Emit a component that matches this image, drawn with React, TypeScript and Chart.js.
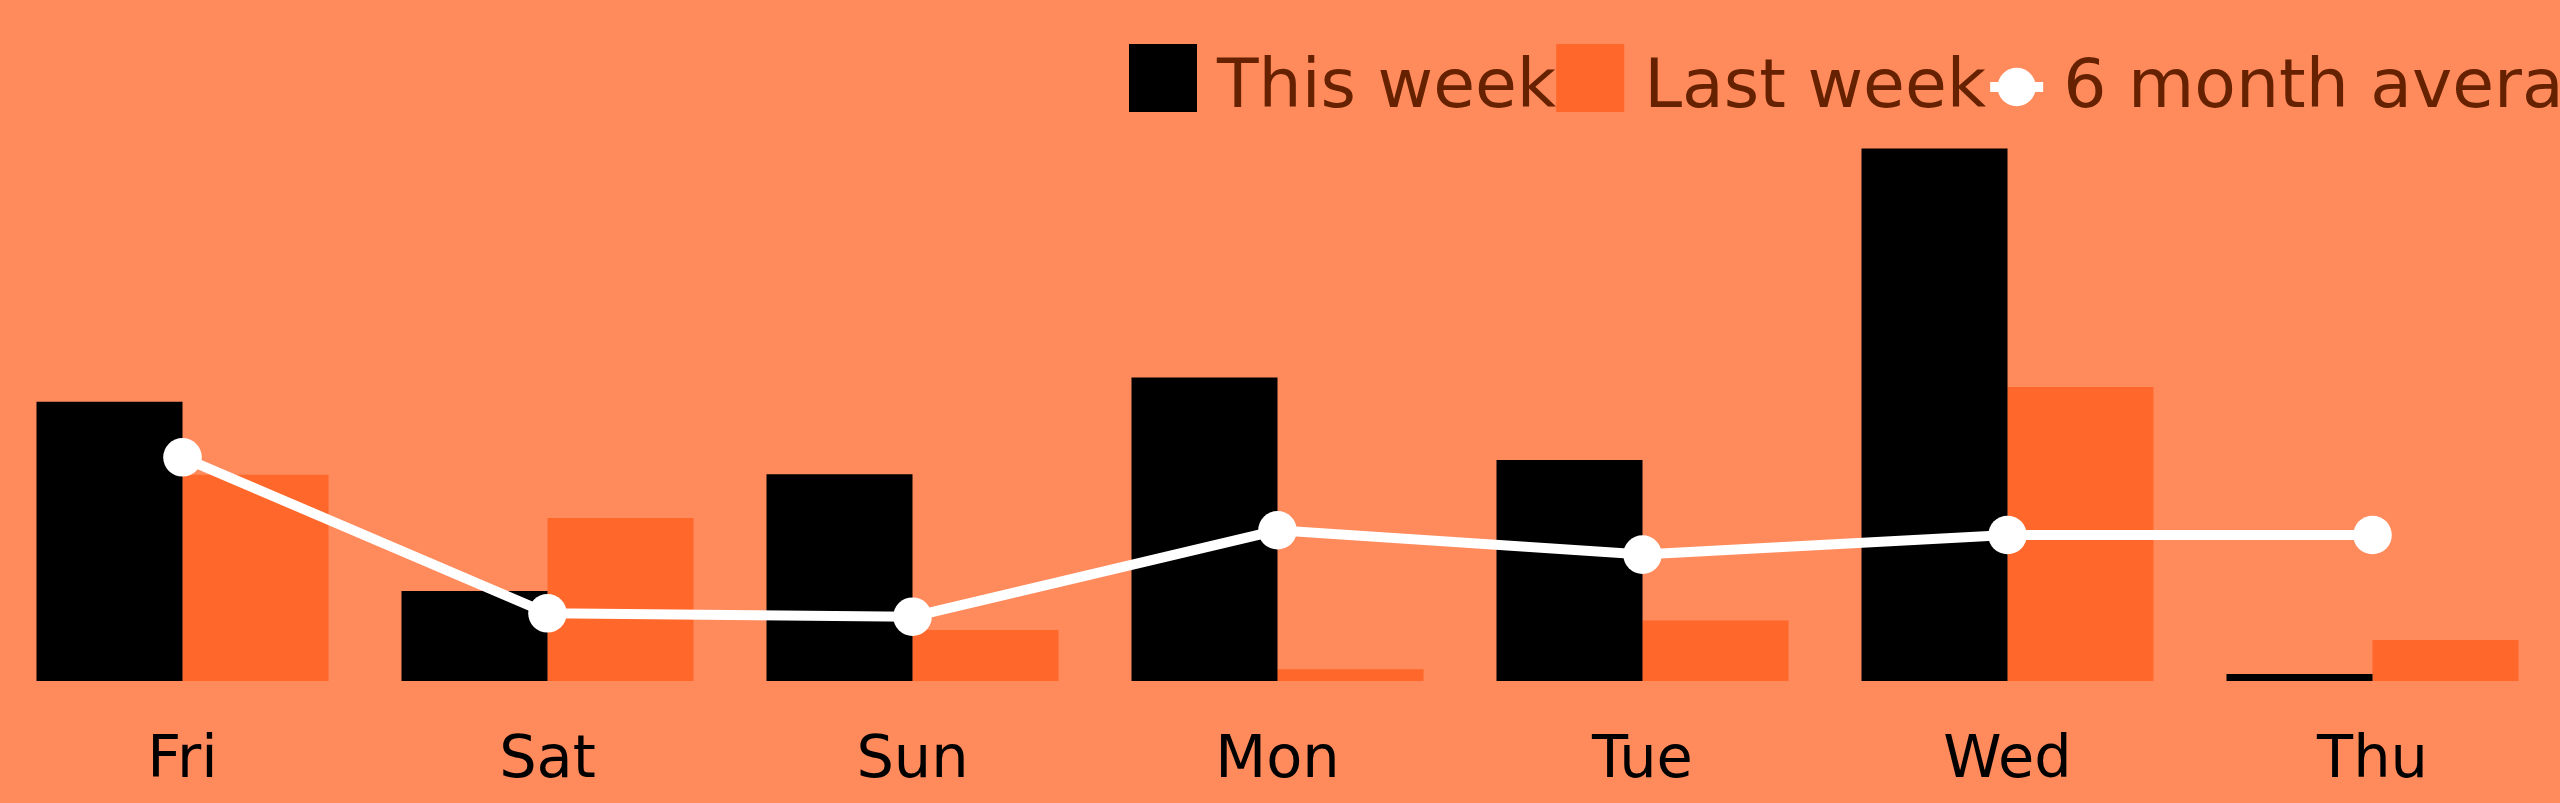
import React, { useEffect, useRef } from "react";
import { Chart, registerables } from "chart.js";

Chart.register(...registerables);

const categories = ["Fri", "Sat", "Sun", "Mon", "Tue", "Wed", "Thu"];
const thisWeek = [46.55, 15.0, 34.45, 50.57, 36.83, 88.73, 1.17];
const lastWeek = [34.38, 27.17, 8.5, 1.95, 10.07, 49.0, 6.83];
const sixMonthAverage = [37.28, 11.28, 10.72, 25.12, 21.07, 24.33, 24.33];
const seriesLabels = ["This week", "Last week", "6 month average"];

const BG = "#ff8a5c";
const LAST_WEEK_COLOR = "#ff672b";
const LEGEND_TEXT = "#662200";
const FONT = '"DejaVu Sans", Verdana, sans-serif';

const legendPlugin = {
  id: "topLegend",
  afterDraw(chart: any) {
    const ctx = chart.ctx as CanvasRenderingContext2D;
    ctx.save();
    ctx.font = `68px ${FONT}`;
    ctx.textBaseline = "alphabetic";
    ctx.textAlign = "left";
    let x = 1129;
    const spacing = [0, 4, 0];
    chart.data.datasets.forEach((ds: any, i: number) => {
      if (ds.type === "line") {
        const cy = 87;
        ctx.strokeStyle = ds.borderColor;
        ctx.lineWidth = 10;
        ctx.beginPath();
        ctx.moveTo(x, cy);
        ctx.lineTo(x + 53, cy);
        ctx.stroke();
        ctx.fillStyle = ds.pointBackgroundColor;
        ctx.beginPath();
        ctx.arc(x + 26.5, cy, 19.2, 0, Math.PI * 2);
        ctx.fill();
        x += 53;
      } else {
        ctx.fillStyle = ds.backgroundColor;
        ctx.fillRect(x, 44, 68, 68);
        x += 68;
      }
      x += 20;
      ctx.fillStyle = LEGEND_TEXT;
      ctx.fillText(ds.label, x, 107);
      x += ctx.measureText(ds.label).width + spacing[i];
    });
    ctx.restore();
  },
};

export default function App() {
  const ref = useRef<HTMLCanvasElement | null>(null);

  useEffect(() => {
    document.documentElement.style.overflow = "hidden";
    document.body.style.margin = "0";
    document.body.style.background = BG;
    const canvas = ref.current!;
    const chart = new Chart(canvas, {
      type: "bar",
      data: {
        labels: categories,
        datasets: [
          {
            type: "bar",
            label: seriesLabels[0],
            data: thisWeek,
            backgroundColor: "#000000",
            borderWidth: 0,
            categoryPercentage: 0.8,
            barPercentage: 1.0,
            order: 1,
          },
          {
            type: "bar",
            label: seriesLabels[1],
            data: lastWeek,
            backgroundColor: LAST_WEEK_COLOR,
            borderWidth: 0,
            categoryPercentage: 0.8,
            barPercentage: 1.0,
            order: 1,
          },
          {
            type: "line",
            label: seriesLabels[2],
            data: sixMonthAverage,
            borderColor: "#ffffff",
            backgroundColor: "#ffffff",
            borderWidth: 10,
            pointRadius: 19.3,
            pointBorderWidth: 0,
            pointBackgroundColor: "#ffffff",
            tension: 0,
            order: 0,
          } as any,
        ],
      },
      options: {
        responsive: false,
        animation: false,
        events: [],
        layout: { autoPadding: false, padding: { top: 81, left: 0, right: 5, bottom: 0 } },
        plugins: {
          legend: { display: false },
          tooltip: { enabled: false },
        },
        scales: {
          x: {
            grid: { display: false, drawTicks: false },
            border: { display: false },
            ticks: {
              color: "#000000",
              font: { family: FONT, size: 59 },
              padding: 45,
              maxRotation: 0,
              autoSkip: false,
            },
            afterFit: (scale: any) => {
              scale.height = 122;
            },
          },
          y: {
            display: false,
            min: 0,
            max: 100,
          },
        },
      },
      plugins: [legendPlugin],
    });
    return () => chart.destroy();
  }, []);

  return (
    <div style={{ width: 2560, height: 803, background: BG }}>
      <canvas ref={ref} width={2560} height={803} style={{ display: "block", width: 2560, height: 803 }} />
    </div>
  );
}
